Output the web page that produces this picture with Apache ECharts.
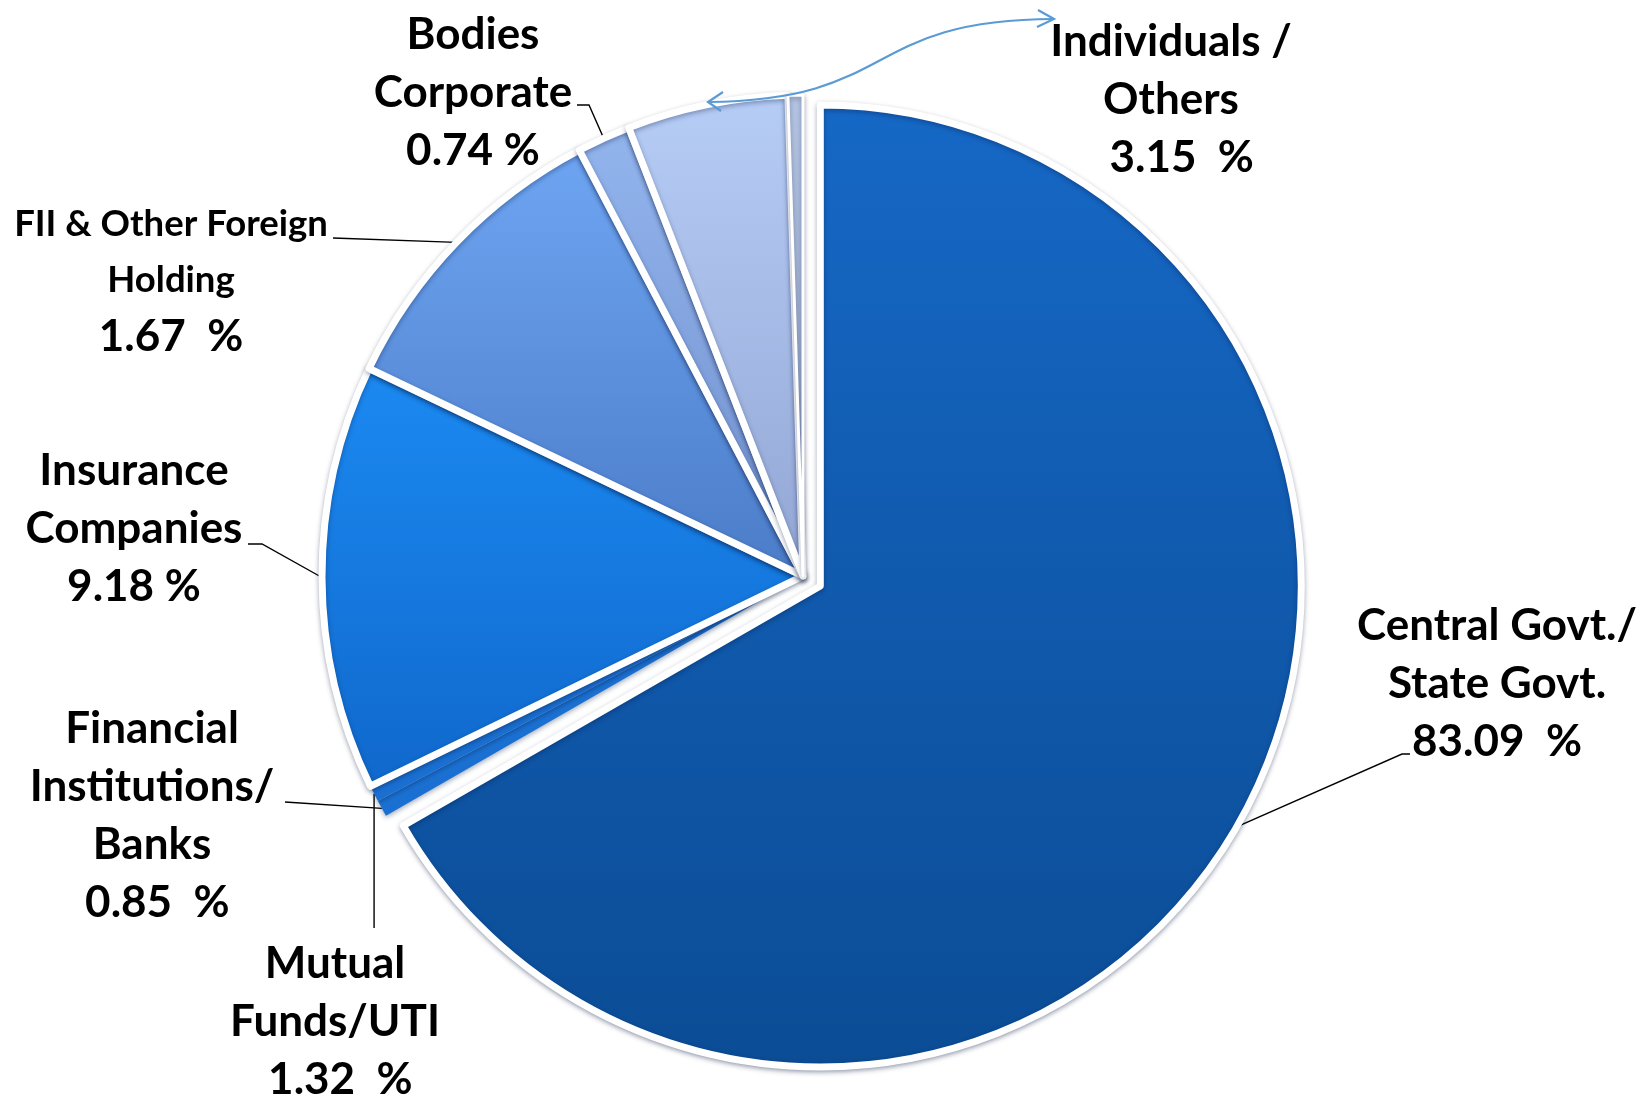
<!DOCTYPE html>
<html><head><meta charset="utf-8">
<script src="https://cdn.jsdelivr.net/npm/echarts@6/dist/echarts.min.js"></script>
<style>html,body{margin:0;padding:0;background:#fff}#c{width:1644px;height:1096px}</style>
</head><body><div id="c"></div>
<script>
// ---- data (slice shares; printed labels as shown) ----
const categories = ['Central Govt./\nState Govt.', 'Financial\nInstitutions/\nBanks', 'Mutual\nFunds/UTI', 'Insurance\nCompanies', 'FII & Other Foreign\nHolding', 'Bodies\nCorporate', 'Individuals /\nOthers', ''];
const sliceShares = [66.7, 0.55, 0.55, 14.3, 10.2, 1.8, 5.4, 0.5];
const percentLabels = ['83.09  %', ' 0.85  %', ' 1.32  %', '9.18 %', '1.67  %', '0.74 %', '  3.15  %', ''];

// ---- styling / layout (not data) ----
const sliceColors = [
  ['#1668c6', '#0b4c95'],
  ['#1a70d2', '#1a70d2'],
  ['#1a70d2', '#1a70d2'],
  ['#1b8af2', '#1068cc'],
  ['#6ea5f2', '#4b7cc8'],
  ['#93b5ee', '#6f8fcc'],
  ['#b6cdf6', '#93a6d4'],
  ['#b4c4e2', '#8e9fc4']
];
const borderWidths = [7, 0, 0, 7, 7, 7, 7, 3];
const labelPos = [[1497, 684], [152, 816], [335, 1022], [134, 529], [171, 281], [473, 93], [1171, 100], null];
// leader line end relative to label centre, plus a short elbow
const leaderSpec = [
  {end: [-87, 70], elbow: -8},
  {end: [133, -14], elbow: 0},
  {end: [0, -94], vertical: true},
  {end: [114, 15], elbow: 14},
  {end: [162, -43], elbow: 0},
  {end: [104, 12], elbow: 12},
  null,
  null
];
const smallNameIdx = 4;
const CENTER = [803, 576];
const RADIUS = 481;
const EXPLODE_MAIN = 20;

function grad(c) {
  return new echarts.graphic.LinearGradient(0, 0, 0, 1, [{offset: 0, color: c[0]}, {offset: 1, color: c[1]}]);
}
function labelText(i) {
  const nameStyle = i === smallNameIdx ? 's' : 'n';
  const lines = categories[i].split('\n').map(l => '{' + nameStyle + '|' + l + '}');
  lines.push('{p|' + percentLabels[i] + '}');
  return lines.join('\n');
}
const rich = {
  n: {fontFamily: 'Lato', fontWeight: 700, fontSize: 44, lineHeight: 58, color: '#000'},
  s: {fontFamily: 'Lato', fontWeight: 700, fontSize: 36.5, lineHeight: 56, color: '#000'},
  p: {fontFamily: 'Lato', fontWeight: 700, fontSize: 44, lineHeight: 58, color: '#000'}
};

function buildData(include) {
  return categories.map((name, i) => {
    const item = {name: name, value: sliceShares[i]};
    if (!include(i)) {
      item.itemStyle = {color: 'transparent', borderWidth: 0, shadowBlur: 0};
      item.label = {show: false};
      item.labelLine = {show: false};
      return item;
    }
    const thin = (i === 1 || i === 2);
    item.itemStyle = {
      color: thin ? sliceColors[i][0] : grad(sliceColors[i]),
      borderWidth: borderWidths[i],
      borderColor: '#fff',
      shadowBlur: 5,
      shadowColor: 'rgba(0,20,60,0.35)',
      shadowOffsetY: 2
    };
    if (!labelPos[i]) {
      item.label = {show: false};
      item.labelLine = {show: false};
    } else {
      item.label = {show: true, formatter: labelText(i), rich: rich};
      if (!leaderSpec[i]) item.labelLine = {show: false};
    }
    return item;
  });
}

function makeSeries(include, center) {
  return {
    type: 'pie',
    center: center,
    radius: [0, RADIUS],
    startAngle: 90,
    clockwise: true,
    selectedMode: false,
    avoidLabelOverlap: false,
    emphasis: {disabled: true},
    label: {show: true, position: 'outside', color: '#000'},
    labelLine: {show: true, length: 10, length2: 14, smooth: false, lineStyle: {color: '#000', width: 1.4}},
    labelLayout: function (p) {
      const i = p.dataIndex;
      const pos = labelPos[i];
      if (!pos) return {};
      const out = {x: pos[0], y: pos[1], align: 'center', verticalAlign: 'middle'};
      const g = leaderSpec[i];
      const pts = p.labelLinePoints;
      if (g && pts && pts.length) {
        const a = [pts[0][0], pts[0][1]];
        const end = [pos[0] + g.end[0], pos[1] + g.end[1]];
        if (g.vertical) {
          out.labelLinePoints = [a, [a[0], end[1]], [a[0], end[1]]];
        } else {
          out.labelLinePoints = [a, [end[0] + g.elbow, end[1]], end];
        }
      }
      return out;
    },
    data: buildData(include)
  };
}

// the main slice is pulled out along its own mid-angle
const total = sliceShares.reduce((a, b) => a + b, 0);
const midAng = (sliceShares[0] / total) * Math.PI; // radians clockwise from 12 o'clock
const mainCenter = [CENTER[0] + EXPLODE_MAIN * Math.sin(midAng), CENTER[1] - EXPLODE_MAIN * Math.cos(midAng)];

const chart = echarts.init(document.getElementById('c'), null, {renderer: 'canvas'});
chart.setOption({
  animation: false,
  backgroundColor: '#ffffff',
  series: [
    makeSeries(i => i === 0, mainCenter),
    makeSeries(i => i !== 0, CENTER)
  ],
  graphic: [
    {type: 'group', z: 100, children: [
      {type: 'bezierCurve', silent: true, z: 100,
       shape: {x1: 708, y1: 102, x2: 1054, y2: 19, cpx1: 900, cpy1: 100, cpx2: 860, cpy2: 20},
       style: {stroke: '#5b9bd5', lineWidth: 2.2, fill: null}},
      {type: 'polyline', silent: true, z: 100, shape: {points: [[723, 92], [708, 102], [721, 111]]},
       style: {stroke: '#5b9bd5', lineWidth: 2.2, fill: null}},
      {type: 'polyline', silent: true, z: 100, shape: {points: [[1038, 10], [1054, 19], [1037, 27]]},
       style: {stroke: '#5b9bd5', lineWidth: 2.2, fill: null}}
    ]}
  ]
});
</script></body></html>
